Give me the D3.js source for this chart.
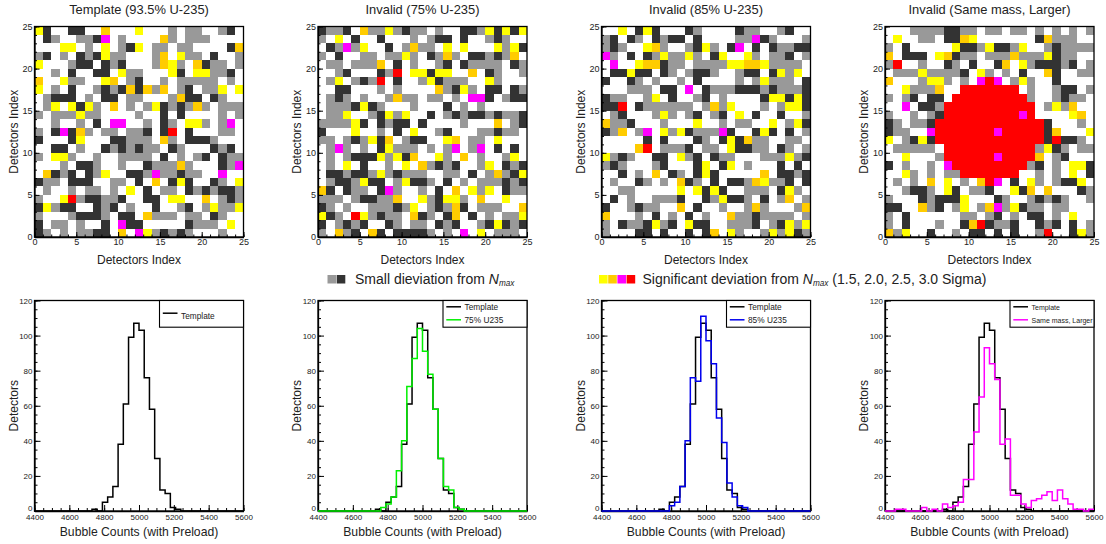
<!DOCTYPE html>
<html>
<head>
<meta charset="utf-8">
<script src="https://cdn.jsdelivr.net/npm/d3@7"></script>
<style>
  html, body { margin: 0; padding: 0; background: #fff; }
  svg { display: block; }
  text { font-family: "Liberation Sans", Arial, sans-serif; fill: #222; }
  .axis path { stroke: #000; stroke-width: 1.3; }
  .axis line { stroke: #000; stroke-width: 1; }
</style>
</head>
<body>
<div id="chart"></div>
<script>
// Detector maps, top row (24) first. One letter per cell:
// . none, g/k small deviation, y/o/m/r significant deviation
const mapTemplate = [
  "yk..kk..o...y...g.gg..gk.",
  ".kg..ggkm.g....og.ggg....",
  "...yy.g.y.gky.gg.gg....ko",
  "gk.g.kgkygg...go.ygg.k..g",
  "y...gkk.kgk...goyg.okgg.g",
  "..g.k..kk.ygg...yk.yyggk.",
  "o..ygg..yo.gk..g.ggggg.g.",
  "y.g.k..gkgkokogo.gk.ggy.y",
  ".gkkk.g.kk.gg...gokk.kg..",
  ".gy.ykyg.o.g.gykgkgog.ggg",
  "g.gggygg....g..k.k....g.g",
  "..g..g.k.mm..g.kg.yyg.gm.",
  "g.kmkog.gg.ggk.kr.k...gg.",
  "k...ky...kkggg.og.kkkg...",
  "..kk.g..kgkgkgg.kg...kgk.",
  "g.yyg..g..gggg.k.g.gk.kgg",
  "...g.kkg..g..kgggog...kgm",
  ".okgk.kgy..kkgmggkgg..m..",
  "kgg.kkk..gg.k.o.kyk..kg.y",
  ".g..g.gg.g.y.k.gg.kgkgkkg",
  "g..yrgkkggk..kk.yy..o.gkg",
  "kygkk..kgk.g..k..gk.gyggy",
  "g...gkkkg.kk.oggg.gg.kg..",
  "k.gg.g..k.mkk.....kggg.y.",
  "kg.g.ggkk.o.mygkgkg...g.."
];
const map75 = [
  "kggk.oggygkgg.g..kkgykyky",
  "g.y.k..k...g.gkk.k..gkg..",
  ".kgmgy..k.gogg.y.y...ygyk",
  "g.k..gg.ggyg.kgog.kkgkgo.",
  ".gg.gggo.k.g..gk.kgggg.kg",
  "..gk...kgr.yykyy..o.kg..g",
  ".gy.gkgr.k..gykggg..yg...",
  "..kk...g.g....ogkyg.kk.kg",
  ".gkg.g..gogg.gg.g.mmk.gkk",
  ".gggkykg...g...k.g.g.....",
  ".ggy..gkygy..k.gkgkkgkggk",
  "ggggyk.kgkk.k....g...o.gk",
  "k...y..g.k.y..gk...ggkgg.",
  "gg.gkgyko.gkk..yo.gg.y...",
  ".gmg.g.kyggg.g.gm.gm.k.k.",
  ".g.gkkkygyko..yg.o.g..gy.",
  ".g.y.k..g.y.ogkgk..gy.kgk",
  ".kkgkkgygkggg..gg.k.gogky",
  ".gkkgykk.gykkg.k.g.gggkgk",
  "ok.kgg.kmg..g.k.o.ygy.kgg",
  "ggg.gkkggo..ygkyyg.o..y..",
  "kg.g..gggkgy.gkgok.ggg..o",
  "ykg.rygkgg.okg.ko.k.g.ggy",
  "k.gkgk..kg.gg.kgk..gkykgk",
  "g.ogk.ok.kkkkg.g.m.y.ggg."
];
const map85 = [
  "..y.kyk...kg....kgg..gk..",
  "gk.kg.kgkk.k....ggmkg...g",
  "gkg..yog..gkyg.km.k.kggkk",
  "mg.k.kgyggyg.ky..yg.ggk.g",
  ".m..yookgg.ggggyyooygggg.",
  ".kkykk.kg.gkkg..gkk.kygy.",
  "k..kg.g..g.k....g.gyggg.k",
  "...ggg.kk.m.kgggkkkgkgggk",
  "kgg..gy.k..gk.g....kyykyk",
  "kkr.kgggggg.gogy...g.gyyk",
  ".gk...gyg.gk.gk.y.k..k..g",
  "oggk...g...y..g.gg..y.gyk",
  "kgo.gm.ygykgggmk..kyk.k.g",
  ".....k.k...kg.kykogg..gg.",
  "....or.gggk.gg.ykkgg.kg.g",
  "ygkg..kk.ygk.kgg...gggygk",
  "gkg...gk...ky.ky.g...k.k.",
  "..k.g.o.kg.kyk.....o.kkgk",
  ".g..kg.g.okg.k.kkgoyggk.k",
  "..gg.....y.ykyk..ggg.kyg.",
  ".k.g..gggk..kgykkg.k.go.g",
  "k..gkgg..o.k..g..gog...go",
  "o...g.k.g.k.g..oggkgggg.g",
  "g.kggkygk.ykk..gggk.gkygy",
  "g...kk.k..k.ko.yg..gygykg"
];
const mapLarger = [
  "...ggggkkgg.gg.gg.g.g.g.g",
  ".y..gg.kkoy.......koggg..",
  "g.k.....ykkgykkgy..gkgggg",
  "o.kkk.yokgg.gggogggykgg..",
  "gr..g..kg.k..ko.ygkkkgk.g",
  ".gggyggggk.yg.g.k..ok..gg",
  "o...gyyg.g.mrm.gyg..k....",
  "..ygggo..rrrrrrr.g..gkk.g",
  "g.gk.kk.rrrrrrrrrg..gkgg.",
  "..m.kkgrrrrrrrrrrr.gygo..",
  "g..g.gkrrrrrrrrrmr....yo.",
  "kg.ggkrrrrrrrrrrrrrk...g.",
  "kgg..mrrrrrrrmrrrrrko...y",
  "y.gkykrrrrrrrrrrrrrkrkkg.",
  ".ggggg.rrrrrrrrrrrgykg.gg",
  "..y...grrrrrrmrrrro.gk...",
  "k.g..g.mrrrrrrrrrgk.g.yyk",
  "..yg.g.ggrrrrrrr..g.g.y.k",
  ".g.g.o.y.g.orm.k.yg.gkky.",
  "..gkkg.yk.ggk..yko.o...kg",
  "g...kgkkky...kg..gkgkg..g",
  "kk..ogk.gy.gomgykgg.gg...",
  "g.k......gg.gk.g.kk.g.y..",
  "g.k...g..korkggk..kgk.k.g",
  "ogy..k..g.kk.k.k..gr..kyg"
];

const cellKeys = ["g", "k", "y", "o", "m", "r"];
const cellColors = ["#999999", "#333333", "#ffff00", "#ffcc00", "#ff00ff", "#ff0000"];

// Histogram counts: 40 bins of width 30 from 4400 to 5600
const histTemplate = [0,0,0,0,0,0,0,0,0,0,0,1,0,5,8,14,38,61,99,107,103,76,58,30,12,10,2,1,0,0,0,0,0,0,0,0,0,0,0,0];
const hist75 = [0,0,0,0,0,0,0,0,0,0,0,0,2,4,8,23,40,71,87,104,91,78,58,30,14,12,2,1,0,0,0,0,0,0,0,0,0,0,0,0];
const hist85 = [0,0,0,0,0,0,0,0,0,0,0,0,0,3,5,14,40,76,74,111,97,84,53,39,16,8,3,2,0,0,0,0,0,0,0,0,0,0,0,0];
const histLarger = [0,0,1,1,0,0,0,2,0,1,0,4,2,3,5,18,18,45,65,93,84,75,38,41,9,9,4,2,6,7,9,11,6,12,7,4,1,1,0,1];

const mapTitles = ["Template (93.5% U-235)", "Invalid (75% U-235)", "Invalid (85% U-235)", "Invalid (Same mass, Larger)"];
const mapGrids = [mapTemplate, map75, map85, mapLarger];
const histSeries = [
  [{ name: "Template", values: histTemplate, color: "#000000" }],
  [{ name: "Template", values: histTemplate, color: "#000000" }, { name: "75% U235", values: hist75, color: "#00f000" }],
  [{ name: "Template", values: histTemplate, color: "#000000" }, { name: "85% U235", values: hist85, color: "#0000ee" }],
  [{ name: "Template", values: histTemplate, color: "#000000" }, { name: "Same mass, Larger", values: histLarger, color: "#ff00ff" }]
];

const binStart = 4400, binWidth = 30;

// Left edge of each panel column
const panelLeft = [34.5, 318, 601.5, 885];
const panelWidth = 209;
const mapTop = 26.5, mapBottom = 237;
const histTop = 300.5, histBottom = 511;

const svg = d3.select("#chart").append("svg")
  .attr("width", 1106)
  .attr("height", 544);

const cellColor = d3.scaleOrdinal().domain(cellKeys).range(cellColors);

function drawTicks(g, scale, orient, major, minor, majorLen, minorLen, fontSize, padding) {
  const axisFn = orient === "bottom" ? d3.axisBottom : d3.axisLeft;
  g.append("g")
    .attr("class", "axis")
    .call(axisFn(scale).tickValues(minor).tickSize(-minorLen).tickFormat(""))
    .call(a => a.select(".domain").remove());
  return g.append("g")
    .attr("class", "axis")
    .call(axisFn(scale).tickValues(major).tickSize(-majorLen).tickSizeOuter(0).tickPadding(padding).tickFormat(d3.format("d")))
    .call(a => a.selectAll("text").attr("font-size", fontSize));
}

function drawMap(left, title, grid) {
  const x = d3.scaleLinear().domain([0, 25]).range([0, panelWidth]);
  const y = d3.scaleLinear().domain([0, 25]).range([mapBottom - mapTop, 0]);
  const g = svg.append("g").attr("transform", `translate(${left}, ${mapTop})`);

  const cells = [];
  grid.forEach((row, r) => {
    row.split("").forEach((ch, c) => {
      if (ch !== ".") cells.push({ col: c, row: 24 - r, key: ch });
    });
  });

  g.selectAll("rect.cell")
    .data(cells)
    .join("rect")
    .attr("class", "cell")
    .attr("x", d => x(d.col))
    .attr("y", d => y(d.row + 1))
    .attr("width", d => x(d.col + 1) - x(d.col))
    .attr("height", d => y(d.row) - y(d.row + 1))
    .attr("fill", d => cellColor(d.key))
    .attr("shape-rendering", "crispEdges");

  const major = d3.range(0, 26, 5);
  const minor = d3.range(0, 26, 1);

  const xG = g.append("g").attr("transform", `translate(0, ${mapBottom - mapTop})`);
  drawTicks(xG, x, "bottom", major, minor, 5, 2.5, 9, 2);
  const yG = g.append("g");
  drawTicks(yG, y, "left", major, minor, 5, 2.5, 9, 2);

  g.append("rect")
    .attr("width", panelWidth)
    .attr("height", mapBottom - mapTop)
    .attr("fill", "none")
    .attr("stroke", "#000")
    .attr("stroke-width", 1.3);

  g.append("text")
    .attr("x", panelWidth / 2)
    .attr("y", -13)
    .attr("text-anchor", "middle")
    .attr("font-size", 12.9)
    .text(title);

  g.append("text")
    .attr("x", panelWidth / 2)
    .attr("y", mapBottom - mapTop + 26.5)
    .attr("text-anchor", "middle")
    .attr("font-size", 12)
    .text("Detectors Index");

  g.append("text")
    .attr("transform", `translate(-17, ${(mapBottom - mapTop) / 2}) rotate(-90)`)
    .attr("text-anchor", "middle")
    .attr("font-size", 12)
    .text("Detectors Index");
}

function drawHist(left, series) {
  const h = histBottom - histTop;
  const x = d3.scaleLinear().domain([4400, 5600]).range([0, panelWidth]);
  const y = d3.scaleLinear().domain([0, 120]).range([h, 0]);
  const g = svg.append("g").attr("transform", `translate(${left}, ${histTop})`);

  const xG = g.append("g").attr("transform", `translate(0, ${h})`);
  drawTicks(xG, x, "bottom", d3.range(4400, 5601, 200), d3.range(4400, 5601, 50), 6, 3, 8, 3);
  const yG = g.append("g");
  drawTicks(yG, y, "left", d3.range(0, 121, 20), d3.range(0, 121, 5), 6, 3, 8, 2)
    .selectAll("text")
    .filter(d => d === 0)
    .attr("dy", "-0.05em"); // lifts the 0 clear of the 4400 below it

  // Frame goes under the lines, the last series covers the zero line
  g.append("rect")
    .attr("width", panelWidth)
    .attr("height", h)
    .attr("fill", "none")
    .attr("stroke", "#000")
    .attr("stroke-width", 1.3);

  const line = d3.line()
    .x(d => x(d[0]))
    .y(d => y(d[1]))
    .curve(d3.curveStepAfter);

  series.forEach(s => {
    const pts = s.values.map((v, i) => [binStart + i * binWidth, v]);
    pts.push([binStart + s.values.length * binWidth, s.values[s.values.length - 1]]);
    g.append("path")
      .attr("d", line(pts))
      .attr("fill", "none")
      .attr("stroke", s.color)
      .attr("stroke-width", 1.5);
  });

  // Legend box in the top right corner
  const boxW = 84, boxH = 26.7;
  const legend = g.append("g").attr("transform", `translate(${panelWidth - boxW}, 0)`);
  legend.append("rect")
    .attr("width", boxW)
    .attr("height", boxH)
    .attr("fill", "#fff")
    .attr("stroke", "#000")
    .attr("stroke-width", 1.1);

  const single = series.length === 1;
  const fontSize = series.some(s => s.name.length > 12) ? 7 : 8.3;
  series.forEach((s, i) => {
    const cy = single ? 12.7 : 6.3 + 13 * i;
    legend.append("line")
      .attr("x1", 3.3).attr("x2", 18)
      .attr("y1", cy).attr("y2", cy)
      .attr("stroke", s.color)
      .attr("stroke-width", 1.5);
    legend.append("text")
      .attr("x", 21.5)
      .attr("y", cy + (single ? 6 : 2.9))
      .attr("font-size", fontSize)
      .text(s.name);
  });

  g.append("text")
    .attr("x", panelWidth / 2)
    .attr("y", h + 24.5)
    .attr("text-anchor", "middle")
    .attr("font-size", 12.2)
    .text("Bubble Counts (with Preload)");

  g.append("text")
    .attr("transform", `translate(-17, ${h / 2}) rotate(-90)`)
    .attr("text-anchor", "middle")
    .attr("font-size", 12)
    .text("Detectors");
}

mapGrids.forEach((grid, i) => drawMap(panelLeft[i], mapTitles[i], grid));
histSeries.forEach((series, i) => drawHist(panelLeft[i], series));

// Colour key between the two rows
function drawKey(swatchX, colors, textX, before, after) {
  const size = 9.2;
  const keyY = 275;
  svg.selectAll(null)
    .data(colors)
    .join("rect")
    .attr("x", (d, i) => swatchX + i * size)
    .attr("y", keyY)
    .attr("width", size - 0.6)
    .attr("height", 8.5)
    .attr("fill", d => d);

  const t = svg.append("text")
    .attr("x", textX)
    .attr("y", 283.7)
    .attr("font-size", 14);
  t.append("tspan").text(before + " ");
  t.append("tspan").attr("font-style", "italic").text("N");
  t.append("tspan").attr("font-style", "italic").attr("font-size", 8.2).attr("dy", 2.5).text("max");
  if (after) t.append("tspan").attr("dy", -2.5).text(" " + after);
}

drawKey(327.5, cellColors.slice(0, 2), 355, "Small dieviation from");
drawKey(599, cellColors.slice(2), 642.5, "Significant deviation from", "(1.5, 2.0, 2.5, 3.0 Sigma)");
</script>
</body>
</html>
